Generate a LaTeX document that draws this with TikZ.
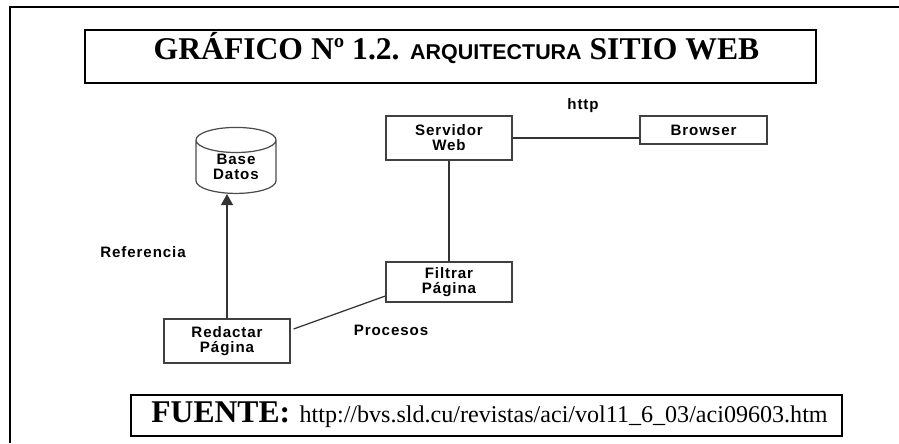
\documentclass[tikz,border=0pt]{standalone}
\usepackage{fontspec}
\setmainfont{Liberation Serif}
\newfontfamily\lblfont[LetterSpace=6]{Liberation Sans}
\setsansfont{Liberation Sans}
\usetikzlibrary{arrows.meta,calc,shapes.geometric}
\tikzset{
  framebox/.style={draw=black, line width=1.1pt, inner sep=0pt},
  stepbox/.style={draw=black!75, line width=0.7pt, inner sep=0pt, align=center,
                  minimum width=2.52cm, font=\lblfont\bfseries\fontsize{8.6}{8.6}\selectfont},
  dbshape/.style={draw=black!70, line width=0.7pt, cylinder, shape border rotate=90, aspect=0.55,
                  inner sep=0pt, align=center, font=\lblfont\bfseries\fontsize{8.6}{8.6}\selectfont},
  lbl/.style={inner sep=0pt, font=\lblfont\bfseries\fontsize{8.6}{8.6}\selectfont},
  conn/.style={line width=0.7pt, color=black!80},
  arr/.style={conn, -{Triangle[length=2.2mm, width=2.4mm]}}}
\begin{document}
\begin{tikzpicture}
    \useasboundingbox (0,0) rectangle (17.98,8.86);
    % outer frame, runs off the page
    \coordinate (frametop) at (17.98,8.72);
    \coordinate (framecorner) at (0.2,8.72);
    \coordinate (framelow) at (0.2,0);
    \draw[line width=1.2pt] (framelow) -- (framecorner) -- (frametop);
    % title and source
    \node[framebox, minimum width=14.62cm, minimum height=1.06cm, text height=0.6cm, text depth=0.46cm] (title) at (9.01,7.73)
      {\hspace{0.24cm}\fontsize{18}{20}\selectfont\bfseries GRÁFICO Nº 1.2. {\sffamily\fontsize{12.2}{14}\selectfont ARQUITECTURA} SITIO WEB};
    \node[framebox, minimum width=14.22cm, minimum height=0.82cm, text height=0.56cm, text depth=0.26cm] (fuente) at (9.73,0.55)
      {\hspace{0.12cm}{\fontsize{18}{20}\selectfont\bfseries FUENTE:}\hspace{0.1cm} \fontsize{13.7}{16}\selectfont http://bvs.sld.cu/revistas/aci/vol11\_6\_03/aci09603.htm};
    % boxes
    \node[stepbox, minimum height=0.88cm] (servidor) at (8.98,6.10) {Servidor\\Web};
    \node[stepbox, minimum height=0.56cm, minimum width=2.54cm] (browser) at (14.07,6.26) {Browser};
    \node[stepbox, minimum height=0.80cm] (filtrar) at (8.98,3.22) {Filtrar\\Página};
    \node[stepbox, minimum height=0.88cm] (redactar) at (4.54,2.04) {Redactar\\Página};
    \node[dbshape, minimum width=1.6cm, minimum height=1.32cm] (base) at (4.72,5.52) {Base\\Datos};
    % labels
    \node[lbl] (http) at (11.66,6.74) {http};
    \node[lbl] (referencia) at (2.86,3.82) {Referencia};
    \node[lbl] (procesos) at (7.82,2.26) {Procesos};
    % connectors
    \draw[conn] (servidor.east) -- (servidor.east -| browser.west);
    \draw[conn] (servidor) -- (filtrar);
    \draw[arr] (redactar.north) -- (redactar.north |- base.south);
    \draw[conn] ($(redactar.east)+(0.06,0.24)$) -- ($(filtrar.west)+(0,-0.28)$);
  \end{tikzpicture}
\end{document}
